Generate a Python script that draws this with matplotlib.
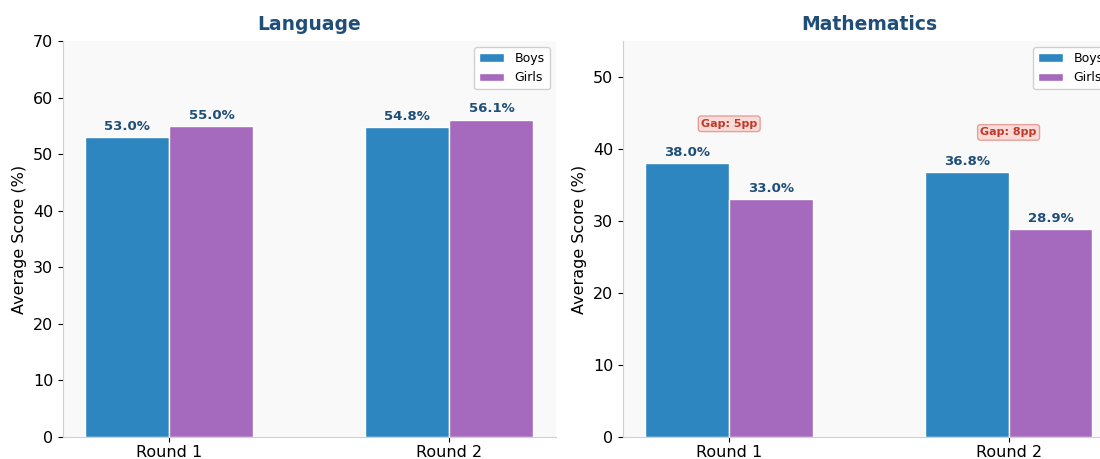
import numpy as np
import matplotlib.pyplot as plt

rounds = ['Round 1', 'Round 2']
lang_boys = [53.0, 54.8]
lang_girls = [55.0, 56.1]
math_boys = [38.0, 36.8]
math_girls = [33.0, 28.9]

BOYS = '#2e86c1'
GIRLS = '#a569bd'
LABEL = '#1f4e79'

fig = plt.figure(figsize=(11, 4.59), dpi=100)
ax1 = fig.add_axes([0.0573, 0.048, 0.448, 0.8627])
ax2 = fig.add_axes([0.5664, 0.048, 0.447, 0.8627])

x = np.arange(len(rounds))
w = 0.3


def draw(ax, boys, girls, title, ymax, gaps=False):
    ax.set_facecolor('#f9f9f9')
    b1 = ax.bar(x - w / 2, boys, w, color=BOYS, edgecolor='white', linewidth=1, label='Boys')
    b2 = ax.bar(x + w / 2, girls, w, color=GIRLS, edgecolor='white', linewidth=1, label='Girls')
    for bars in (b1, b2):
        for b in bars:
            h = b.get_height()
            ax.annotate(f'{h:.1f}%', (b.get_x() + b.get_width() / 2, h),
                        xytext=(0, 3), textcoords='offset points',
                        ha='center', va='bottom', fontsize=9.5,
                        fontweight='bold', color=LABEL)
    if gaps:
        for i in range(len(boys)):
            g = boys[i] - girls[i]
            ax.text(x[i], max(boys[i], girls[i]) + 5.5, f'Gap: {g:.0f}pp',
                    ha='center', va='center', fontsize=8, fontweight='bold',
                    color='#c0392b',
                    bbox=dict(boxstyle='round,pad=0.25', facecolor='#fadbd8',
                              edgecolor='#e6a09a', linewidth=1))
    ax.set_ylim(0, ymax)
    ax.set_xticks(x)
    ax.set_xticklabels(rounds, fontsize=11.5)
    ax.tick_params(axis='x', pad=2.5)
    ax.tick_params(axis='y', labelsize=11.5)
    ax.set_ylabel('Average Score (%)', fontsize=11.5)
    ax.set_title(title, fontsize=13.5, fontweight='bold', color=LABEL, pad=8)
    for s in ['top', 'right']:
        ax.spines[s].set_visible(False)
    for s in ['left', 'bottom']:
        ax.spines[s].set_color('#d0d0d0')
    ax.legend(loc='upper right', fontsize=9, framealpha=0.9, edgecolor='#cccccc')


draw(ax1, lang_boys, lang_girls, 'Language', 70)
draw(ax2, math_boys, math_girls, 'Mathematics', 55, gaps=True)

fig.savefig('out.png', dpi=100)
